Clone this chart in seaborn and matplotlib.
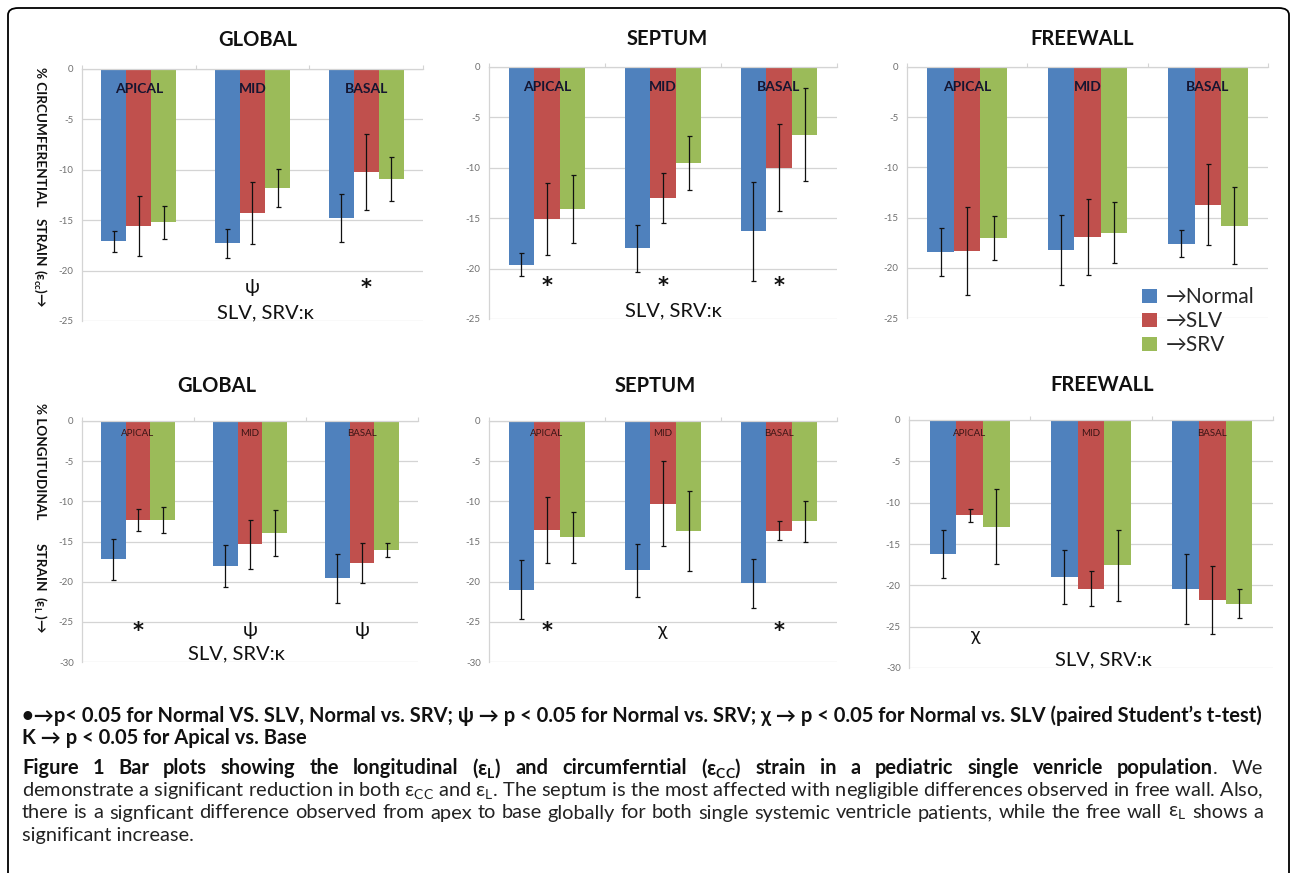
import numpy as np
import pandas as pd
import matplotlib
matplotlib.use("Agg")
import matplotlib.pyplot as plt
import seaborn as sns
from matplotlib import font_manager
from matplotlib.patches import FancyBboxPatch, Patch

# ========================== DATA ==========================

regions = ["APICAL", "MID", "BASAL"]
groups = ["Normal", "SLV", "SRV"]
legend_labels = ["→Normal", "→SLV", "→SRV"]

# rows: Normal, SLV, SRV ; columns: apical, mid, basal
cc_global_mean = [[-17.1, -17.3, -14.8], [-15.6, -14.3, -10.2], [-15.2, -11.8, -10.9]]
cc_global_sd = [[1.05, 1.45, 2.4], [3.0, 3.1, 3.8], [1.65, 1.9, 2.2]]
cc_septum_mean = [[-19.6, -18.0, -16.3], [-15.1, -13.0, -10.0], [-14.1, -9.5, -6.7]]
cc_septum_sd = [[1.1, 2.3, 4.9], [3.6, 2.5, 4.3], [3.4, 2.7, 4.6]]
cc_free_mean = [[-18.4, -18.2, -17.6], [-18.3, -16.9, -13.7], [-17.0, -16.5, -15.8]]
cc_free_sd = [[2.4, 3.5, 1.35], [4.4, 3.8, 4.05], [2.2, 3.05, 3.8]]

l_global_mean = [[-17.2, -18.05, -19.6], [-12.3, -15.35, -17.7], [-12.3, -13.9, -16.05]]
l_global_sd = [[2.55, 2.65, 3.0], [1.37, 3.05, 2.5], [1.65, 2.85, 0.9]]
l_septum_mean = [[-21.0, -18.6, -20.2], [-13.6, -10.3, -13.65], [-14.5, -13.7, -12.5]]
l_septum_sd = [[3.7, 3.3, 3.05], [4.1, 5.3, 1.2], [3.2, 4.95, 2.5]]
l_free_mean = [[-16.2, -19.0, -20.4], [-11.55, -20.4, -21.75], [-12.9, -17.55, -22.2]]
l_free_sd = [[2.95, 3.25, 4.25], [0.8, 2.15, 4.1], [4.5, 4.3, 1.7]]

# significance symbols under each region
cc_global_sig = ["", "ψ", "*"]
cc_septum_sig = ["*", "*", "*"]
cc_free_sig = ["", "", ""]
l_global_sig = ["*", "ψ", "ψ"]
l_septum_sig = ["*", "χ", "*"]
l_free_sig = ["χ", "", ""]

kappa_text = "SLV, SRV:κ"
cc_ylabel = ["% CIRCUMFERENTIAL", "STRAIN", "(ε$_{\\mathregular{cc}}$)→"]
l_ylabel = ["% LONGITUDINAL", "STRAIN", "(ε$_{\\mathregular{L}}$ )→"]

note_1 = ("•→p< 0.05 for Normal VS. SLV, Normal vs. SRV; ψ → p < 0.05 for Normal vs. SRV; "
          "χ → p < 0.05 for Normal vs. SLV (paired Student’s t-test)")
note_2 = "K → p < 0.05 for Apical vs. Base"
caption_bold = ("Figure 1 Bar plots showing the longitudinal (ε$_{\\mathregular{L}}$) and circumferntial "
                "(ε$_{\\mathregular{CC}}$) strain in a pediatric single venricle population")
caption_tail = [".", "We"]
caption_lines = [
    "demonstrate a significant reduction in both ε$_{\\mathregular{CC}}$ and ε$_{\\mathregular{L}}$. "
    "The septum is the most affected with negligible differences observed in free wall. Also,",
    "there is a signficant difference observed from apex to base globally for both single systemic "
    "ventricle patients, while the free wall ε$_{\\mathregular{L}}$ shows a",
    "significant increase.",
]

# ========================== SETTINGS ==========================

W, H = 1292, 873
colors = ["#4F81BD", "#C0504D", "#9BBB59"]
grid_gray = "#d4d4d4"
tick_gray = "#707070"

sns.set_theme(style="white")
plt.rcParams["font.family"] = ["Lato", "DejaVu Sans"]
plt.rcParams["axes.unicode_minus"] = False

avail = {f.name for f in font_manager.fontManager.ttflist}
note_font = ["Liberation Sans Narrow", "DejaVu Sans"] if "Liberation Sans Narrow" in avail else ["Lato", "DejaVu Sans"]


def fx(px):
    return px / W


def fy(py):
    return 1 - py / H


def rect(left, top, right, bottom):
    return [fx(left), fy(bottom), (right - left) / W, (bottom - top) / H]


def draw_panel(ax, means, sds, ymin, top_row):
    rows = []
    for g, m_row, s_row in zip(groups, means, sds):
        for r, m, s in zip(regions, m_row, s_row):
            rows.append({"region": r, "group": g, "mean": m, "sd": s})
    df = pd.DataFrame(rows)

    sns.barplot(data=df, x="region", y="mean", hue="group", order=regions, hue_order=groups,
                palette=colors, width=0.66, saturation=1, errorbar=None, linewidth=0,
                legend=False, ax=ax, zorder=2)

    for cont, g in zip(ax.containers, groups):
        sub = df[df["group"] == g].set_index("region").loc[regions]
        xs = [p.get_x() + p.get_width() / 2 for p in cont.patches]
        ax.errorbar(xs, sub["mean"], yerr=sub["sd"], fmt="none", ecolor="#111111",
                    elinewidth=0.9, capsize=1.8, capthick=0.9, zorder=3)

    for i, r in enumerate(regions):
        if top_row:
            ax.text(i, -2.0, r, ha="center", va="center", fontsize=10, fontweight="bold",
                    color="#151530", zorder=4)
        else:
            ax.text(i, -1.6, r, ha="center", va="center", fontsize=7, color="#3a1515", zorder=4)

    ax.set_ylim(ymin, 0)
    ax.set_yticks(np.arange(ymin, 1, 5))
    ax.set_xlim(-0.5, 2.5)
    ax.xaxis.tick_top()
    ax.set_xticks([-0.5, 0.5, 1.5, 2.5])
    ax.set_xticklabels([])
    ax.tick_params(axis="x", direction="out", length=3, width=0.8, color=grid_gray, top=True, bottom=False)
    ax.tick_params(axis="y", direction="out", length=3, width=0.8, color=grid_gray,
                   labelsize=7, labelcolor=tick_gray, pad=3)
    ax.set_xlabel("")
    ax.set_ylabel("")
    ax.spines["right"].set_visible(False)
    ax.spines["bottom"].set_visible(False)
    for side in ["left", "top"]:
        ax.spines[side].set_color(grid_gray)
        ax.spines[side].set_linewidth(0.9)
    ax.yaxis.grid(True, color=grid_gray, linewidth=0.9)
    ax.set_axisbelow(True)


# ========================== FIGURE ==========================

fig = plt.figure(figsize=(W / 100, H / 100), dpi=100)
renderer = fig.canvas.get_renderer()


def width_at(text, size, weight, family=None):
    probe = fig.text(0, 0, text, fontsize=size, fontweight=weight, family=family)
    w = probe.get_window_extent(renderer=renderer).width
    probe.remove()
    return w


panels = [
    # axes rect (px), title pos (px), title, means, sds, symbols, ymin, top row, kappa x
    ((82, 69, 423, 321), (258, 40), "GLOBAL", cc_global_mean, cc_global_sd, cc_global_sig, -25, True, 1.11),
    ((489, 67, 837, 319), (667, 39), "SEPTUM", cc_septum_mean, cc_septum_sd, cc_septum_sig, -25, True, 1.09),
    ((907, 67, 1268, 318), (1082, 39), "FREEWALL", cc_free_mean, cc_free_sd, cc_free_sig, -25, True, None),
    ((82, 421, 418, 662), (217, 386), "GLOBAL", l_global_mean, l_global_sd, l_global_sig, -30, False, 0.88),
    ((489, 421, 837, 662), (655, 386), "SEPTUM", l_septum_mean, l_septum_sd, l_septum_sig, -30, False, None),
    ((909, 420, 1273, 668), (1102, 385), "FREEWALL", l_free_mean, l_free_sd, l_free_sig, -30, False, 1.1),
]

axes = []
for box, tpos, title, means, sds, sig, ymin, top_row, kx in panels:
    ax = fig.add_axes(rect(*box))
    draw_panel(ax, means, sds, ymin, top_row)
    sig_y = -21.7 if top_row else -26.1
    for i, s in enumerate(sig):
        if s:
            ax.text(i + (0.05 if s == "χ" and not top_row and title == "FREEWALL" else 0), sig_y, s,
                    ha="center", va="center", fontsize=15 if s == "*" else 14,
                    fontweight="bold" if s == "*" else "normal",
                    color="#111111", family=["DejaVu Sans"] if s == "*" else None)
    if kx is not None:
        ax.text(kx, -24.2 if top_row else -29.0, kappa_text, ha="center", va="center",
                fontsize=14.5, color="#111111")
    fig.text(fx(tpos[0]), fy(tpos[1]), title, ha="center", va="center", fontsize=14.5,
             fontweight="bold", color="#111111")
    axes.append(ax)

# y axis labels: three rotated pieces each, sized so the first word spans like the original
yl_size = 10 * 139 / width_at(cc_ylabel[0], 10, "bold")
for words, centers in [(cc_ylabel, [137, 242, 288]), (l_ylabel, [461, 567, 615])]:
    for word, cy in zip(words, centers):
        fig.text(fx(40), fy(cy), word, rotation=270, ha="center", va="center",
                 fontsize=yl_size, fontweight="bold", color="#111111")

# legend in the freewall panel
handles = [Patch(facecolor=c, edgecolor="none") for c in colors]
axes[2].legend(handles=handles, labels=legend_labels, loc="upper left",
               bbox_to_anchor=(fx(1142), fy(287)), bbox_transform=fig.transFigure,
               frameon=False, fontsize=15, handlelength=0.72, handleheight=0.67,
               handletextpad=0.4, labelspacing=0.2, borderpad=0, borderaxespad=0)

# ========================== NOTES & CAPTION ==========================

x_left, x_right = 22, 1263
target_w = x_right - x_left

n_size = 10 * target_w / width_at(note_1, 10, "bold", note_font)
fig.text(fx(x_left), fy(716), note_1, fontsize=n_size, family=note_font, fontweight="bold",
         va="center", color="#111111")
fig.text(fx(x_left), fy(738), note_2, fontsize=n_size, family=note_font, fontweight="bold",
         va="center", color="#111111")

c_size = 10 * target_w / width_at(caption_lines[0], 10, "normal", note_font)


def justified(tokens, py):
    # tokens: (text, weight, glue-to-previous)
    widths = [width_at(t, c_size, wt, note_font) for t, wt, _ in tokens]
    n_gaps = sum(1 for _, _, glue in tokens[1:] if not glue)
    gap = (target_w - sum(widths)) / max(n_gaps, 1)
    x = x_left
    for k, ((t, wt, glue), w) in enumerate(zip(tokens, widths)):
        if k > 0 and not glue:
            x += gap
        fig.text(fx(x), fy(py), t, fontsize=c_size, family=note_font, fontweight=wt,
                 va="center", color="#111111" if wt == "bold" else "#222222")
        x += w


head_tokens = [(w, "bold", False) for w in caption_bold.split(" ")]
head_tokens += [(caption_tail[0], "normal", True), (caption_tail[1], "normal", False)]
justified(head_tokens, 768)
fig.text(fx(x_left), fy(791), caption_lines[0], fontsize=c_size, family=note_font,
         va="center", color="#222222")
justified([(w, "normal", False) for w in caption_lines[1].split(" ")], 813)
fig.text(fx(x_left), fy(836), caption_lines[2], fontsize=c_size, family=note_font,
         va="center", color="#222222")

# outer rounded frame
frame = FancyBboxPatch((fx(8), fy(890)), fx(1289) - fx(8), fy(8) - fy(890),
                       boxstyle="round,pad=0,rounding_size=0.008", transform=fig.transFigure,
                       fill=False, edgecolor="black", linewidth=1.3, clip_on=False)
fig.add_artist(frame)

fig.savefig("out.png", dpi=100)
